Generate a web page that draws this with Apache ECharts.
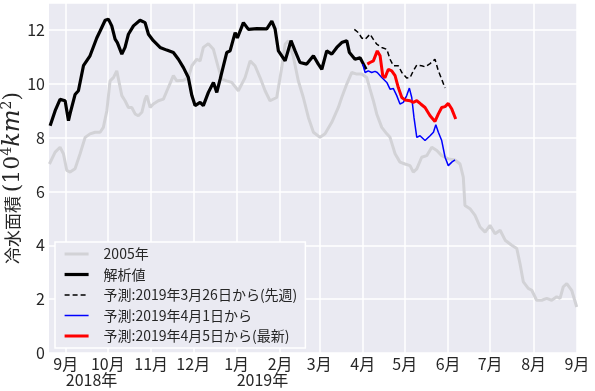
<!DOCTYPE html>
<html>
<head>
<meta charset="utf-8">
<script src="https://cdn.jsdelivr.net/npm/echarts@6/dist/echarts.min.js"></script>
<style>
html, body { margin: 0; padding: 0; background: #fff; }
#main { width: 595px; height: 391px; }
</style>
</head>
<body>
<div id="main"></div>
<script>
// x値は 2018-09-01 からの日数
var monthDays = [0, 30, 61, 91, 122, 153, 181, 212, 242, 273, 303, 334, 365];
var monthNames = ['9月', '10月', '11月', '12月', '1月', '2月', '3月', '4月', '5月', '6月', '7月', '8月', '9月'];
var yearDays = [0, 122];
var yearNames = ['2018年', '2019年'];

var names = ['2005年', '解析値', '予測:2019年3月26日から(先週)', '予測:2019年4月1日から', '予測:2019年4月5日から(最新)'];

var y2005 = [
    [-11.7, 7.02], [-7.6, 7.46], [-4.1, 7.64], [-1.7, 7.4], [0.7, 6.78], [3.1, 6.72], [6.6, 6.84],
    [10.2, 7.4], [13.8, 8.01], [17.3, 8.14], [20.9, 8.2], [24.5, 8.2], [26.8, 8.38], [29.3, 9.0],
    [31.6, 10.11], [34.0, 10.23], [36.4, 10.48], [38.3, 9.99], [40.0, 9.56], [42.3, 9.37], [44.7, 9.12],
    [47.1, 9.12], [49.5, 8.88], [51.8, 8.81], [54.3, 8.94], [56.6, 9.43], [57.8, 9.56], [60.2, 9.12],
    [62.5, 9.25], [66.1, 9.37], [69.7, 9.43], [73.2, 9.86], [76.8, 10.3], [79.2, 10.11], [84.0, 10.13],
    [87.5, 10.23], [90.0, 10.67], [93.5, 10.91], [95.9, 10.85], [98.2, 11.35], [101.8, 11.49], [105.4, 11.28],
    [108.9, 10.6], [111.4, 10.17], [114.9, 10.11], [118.5, 10.05], [123.2, 9.74], [128.0, 10.23], [131.6, 10.85],
    [135.1, 10.67], [138.7, 10.23], [142.3, 9.74], [145.8, 9.37], [150.6, 9.49], [154.2, 10.6], [156.6, 11.47],
    [158.9, 11.6], [162.5, 11.0], [166.0, 10.11], [169.6, 9.49], [173.2, 8.75], [176.8, 8.2], [181.5, 8.01],
    [185.1, 8.14], [189.9, 8.57], [194.6, 9.12], [197.0, 9.49], [200.6, 9.99], [204.2, 10.42], [207.7, 10.36],
    [211.3, 10.36], [214.9, 10.23], [217.2, 9.8], [219.6, 9.37], [222.0, 8.88], [225.6, 8.38], [229.2, 8.14],
    [231.5, 8.01], [235.1, 7.4], [238.6, 7.09], [242.2, 7.02], [245.8, 6.96], [248.1, 6.72], [250.6, 6.84],
    [254.1, 7.27], [257.7, 7.33], [261.3, 7.64], [264.9, 7.52], [268.4, 7.33], [273.1, 7.21], [277.9, 7.17],
    [281.5, 7.02], [283.8, 6.53], [285.0, 5.48], [288.6, 5.36], [292.2, 5.11], [295.8, 4.68], [299.4, 4.49],
    [302.9, 4.74], [306.5, 4.43], [310.1, 4.56], [313.7, 4.19], [318.4, 4.0], [322.0, 3.88], [324.3, 3.32],
    [326.7, 2.64], [330.2, 2.4], [332.7, 2.33], [336.2, 1.96], [339.8, 1.96], [343.4, 2.03], [346.9, 1.96],
    [350.5, 2.09], [352.9, 2.03], [355.2, 2.46], [357.7, 2.58], [361.2, 2.33], [364.8, 1.71]
];

var analysis = [
    [-11.2, 8.44], [-7.6, 9.0], [-4.1, 9.42], [-0.5, 9.37], [1.9, 8.63], [3.1, 8.9], [6.6, 9.6],
    [9.0, 9.74], [12.6, 10.67], [17.3, 11.04], [22.1, 11.7], [24.5, 11.96], [28.1, 12.36], [30.4, 12.4],
    [32.8, 12.15], [35.2, 11.66], [36.8, 11.53], [40.0, 11.1], [42.3, 11.35], [44.7, 11.84], [48.3, 12.15],
    [53.0, 12.36], [56.6, 12.27], [59.0, 11.84], [62.5, 11.6], [67.3, 11.35], [72.1, 11.25], [76.8, 11.16],
    [80.4, 10.91], [84.0, 10.6], [87.5, 10.23], [90.0, 9.56], [92.3, 9.19], [95.9, 9.31], [98.2, 9.19],
    [101.8, 9.68], [105.4, 10.05], [107.8, 9.68], [110.2, 10.17], [114.9, 11.16], [117.3, 11.22], [120.9, 11.9],
    [122.5, 11.7], [126.8, 12.27], [130.4, 12.02], [136.4, 12.05], [143.5, 12.04], [147.1, 12.33], [149.4, 12.04],
    [151.8, 11.22], [156.6, 10.85], [160.8, 11.6], [163.7, 11.22], [167.2, 10.79], [172.0, 10.73], [176.8, 11.04],
    [180.3, 10.73], [182.8, 10.54], [186.3, 11.22], [189.9, 11.1], [193.5, 11.35], [197.0, 11.53], [200.6, 11.6],
    [202.5, 11.16], [206.5, 10.91], [210.1, 10.97], [212.5, 10.73], [214.4, 10.54]
];

var fc0326 = [
    [206.0, 12.02], [208.9, 11.9], [211.3, 11.7], [213.7, 11.65], [217.2, 11.84], [219.6, 11.65], [222.0, 11.47],
    [225.6, 11.35], [229.2, 11.28], [231.5, 10.91], [233.9, 10.67], [237.4, 10.67], [239.9, 10.42], [243.4, 10.21],
    [245.8, 10.23], [248.1, 10.48], [250.6, 10.7], [254.1, 10.67], [256.5, 10.63], [260.1, 10.75], [263.6, 10.91],
    [266.0, 10.48], [268.4, 10.17], [270.8, 9.84]
];

var fc0401 = [
    [212.0, 10.73], [213.7, 10.42], [216.0, 10.48], [218.4, 10.42], [220.8, 10.46], [222.4, 10.42], [225.6, 10.23],
    [229.2, 10.05], [231.5, 9.8], [233.9, 9.82], [236.3, 9.56], [238.6, 9.25], [241.0, 9.31], [243.4, 9.56],
    [245.3, 9.84], [247.0, 9.49], [248.6, 8.75], [250.6, 8.01], [252.9, 8.07], [256.5, 7.89], [260.1, 8.07],
    [262.5, 8.2], [264.2, 8.48], [266.0, 8.2], [268.4, 7.89], [270.8, 7.27], [273.1, 6.96], [275.6, 7.09],
    [277.9, 7.17]
];

var fc0405 = [
    [215.3, 10.73], [217.2, 10.79], [219.6, 10.85], [222.4, 11.22], [224.4, 11.04], [226.3, 10.3], [227.9, 10.23],
    [230.3, 10.54], [232.7, 10.48], [235.1, 10.3], [237.4, 9.86], [239.9, 9.49], [242.2, 9.4], [245.8, 9.37],
    [248.1, 9.31], [250.6, 9.37], [253.4, 9.25], [256.5, 9.12], [260.1, 8.81], [263.6, 8.6], [266.0, 8.88],
    [268.4, 9.12], [270.8, 9.15], [273.1, 9.27], [275.6, 9.06], [278.4, 8.69]
];

var FONT = '"Noto Sans CJK JP", "Noto Sans", sans-serif';
var MATH = '"DejaVu Serif", serif';

var colors = ['#d2d2d6', '#000000', '#000000', '#0000ff', '#ff0000'];
var widths = [3, 3.2, 1.5, 1.5, 3];
var types = ['solid', 'solid', [5, 3], 'solid', 'solid'];

function line(i, data) {
    return {
        name: names[i],
        type: 'line',
        data: data,
        showSymbol: false,
        symbol: 'none',
        z: 2 + i,
        lineStyle: { color: colors[i], width: widths[i], type: types[i] },
        itemStyle: { color: colors[i] }
    };
}

var chart = echarts.init(document.getElementById('main'));

var option = {
    animation: false,
    textStyle: { fontFamily: FONT },
    grid: {
        left: 49, right: 18, top: 3, bottom: 38,
        outerBoundsMode: 'none',
        show: true, backgroundColor: '#eaeaf2', borderWidth: 0
    },
    legend: {
        orient: 'vertical',
        left: 55, top: 242,
        padding: [5, 8, 5, 8],
        itemGap: 6.5,
        itemWidth: 24, itemHeight: 14,
        itemStyle: { opacity: 0 },
        backgroundColor: '#eaeaf2',
        borderColor: '#ffffff', borderWidth: 1.5,
        textStyle: { fontFamily: FONT, fontSize: 14, color: '#262626', padding: [0, 0, 0, 10] },
        data: names.map(function (n, i) {
            return { name: n, lineStyle: { color: colors[i], width: widths[i], type: types[i] } };
        })
    },
    xAxis: [{
        type: 'value',
        min: -12, max: 365,
        axisLine: { show: false },
        axisTick: { show: false, customValues: monthDays },
        splitLine: { show: true, lineStyle: { color: '#ffffff', width: 1.5 } },
        axisLabel: {
            customValues: monthDays,
            fontSize: 16, color: '#262626', margin: 3,
            formatter: function (v) { return monthNames[monthDays.indexOf(v)]; }
        }
    }, {
        type: 'value',
        position: 'bottom',
        offset: 16,
        min: -12, max: 365,
        axisLine: { show: false },
        axisTick: { show: false, customValues: yearDays },
        splitLine: { show: false },
        axisLabel: {
            customValues: yearDays,
            fontSize: 16, color: '#262626', margin: 3, align: 'left',
            formatter: function (v) { return yearNames[yearDays.indexOf(v)]; }
        }
    }],
    yAxis: {
        type: 'value',
        min: 0, max: 13, interval: 2,
        axisLine: { show: false },
        axisTick: { show: false },
        splitLine: { lineStyle: { color: '#ffffff', width: 1.5 } },
        axisLabel: { fontSize: 16, color: '#262626', margin: 4, showMaxLabel: false },
        name: '{a|冷水面積 }{m|(10}{s|4}{k|km}{s|2}{m|)}',
        nameLocation: 'middle',
        nameMoveOverlap: false,
        nameGap: 23,
        nameTextStyle: {
            rich: {
                a: { fontFamily: FONT, fontSize: 17, color: '#262626', lineHeight: 26 },
                m: { fontFamily: MATH, fontSize: 22, color: '#262626', lineHeight: 26 },
                k: { fontFamily: MATH, fontStyle: 'italic', fontSize: 24, color: '#262626', lineHeight: 26 },
                s: { fontFamily: MATH, fontSize: 14, color: '#262626', lineHeight: 26, verticalAlign: 'top' }
            }
        }
    },
    series: [
        line(0, y2005),
        line(1, analysis),
        line(2, fc0326),
        line(3, fc0401),
        line(4, fc0405)
    ]
};

chart.setOption(option);
</script>
</body>
</html>
